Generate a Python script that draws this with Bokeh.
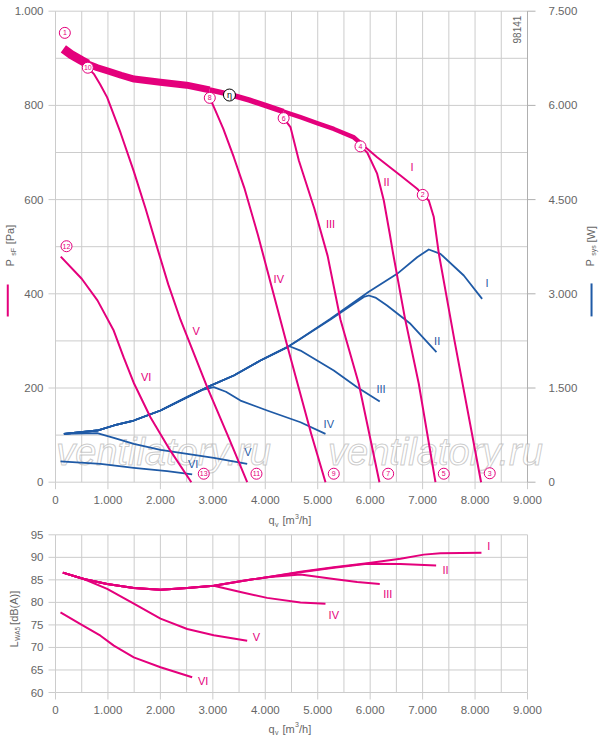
import numpy as np
from bokeh.core.properties import value
from bokeh.embed import file_html
from bokeh.layouts import column
from bokeh.models import Range1d
from bokeh.plotting import figure
from bokeh.resources import INLINE

MAGENTA = "#e4007c"
BLUE = "#1f5aa6"
GRID = "#cccccc"
TXT = "#666666"
FONT = "Liberation Sans"
ROMAN = ["I", "II", "III", "IV", "V", "VI"]

# ---- axes -----------------------------------------------------------------
q_ticks = [0, 1000, 2000, 3000, 4000, 5000, 6000, 7000, 8000, 9000]
q_grid = [0, 500, 1000, 1500, 2000, 2500, 3000, 3500, 4000, 4500, 5000, 5500,
          6000, 6500, 7000, 7500, 8000, 8500, 9000]
p_ticks = [0, 200, 400, 600, 800, 1000]
p_grid = [0, 100, 200, 300, 400, 500, 600, 700, 800, 900, 1000]
w_ticks = [0, 1500, 3000, 4500, 6000, 7500]
db_ticks = [60, 65, 70, 75, 80, 85, 90, 95]

# ---- static pressure psF [Pa] -------------------------------------------
# upper envelope where the speed curves I..V lie on top of each other
env_q = [150, 300, 500, 616, 800, 1000, 1250, 1500, 2000, 2500, 2940, 3300,
         3700, 4000, 4350, 4670, 5000, 5306, 5690, 5815]
env_p = [920, 908, 895, 888, 880, 873, 864, 856, 849, 843, 833, 824,
         811, 800, 787, 775, 762, 750, 732, 720]
band_ends = [616, 2940, 4350, 5815]      # V, IV, III, II leave the band here
band_widths = [9, 7, 5.5, 4.5]

pI_q = [5815, 6133, 6578, 6896, 7003, 7118, 7213, 7310, 7607, 8115]
pI_p = [720, 690, 651, 623, 610, 598, 563, 485, 301, 0]
pII_q = [5815, 5943, 6133, 6260, 6374, 6430, 6660, 6927, 7245]
pII_p = [713, 700, 655, 598, 527, 490, 350, 209, 0]
pIII_q = [4350, 4480, 4640, 4938, 5190, 5434, 5783, 6177]
pIII_p = [773, 754, 683, 580, 480, 345, 209, 0]
pIV_q = [2942, 3050, 3200, 3400, 3600, 3860, 4418, 4650, 4875, 5148]
pIV_p = [816, 789, 750, 690, 625, 525, 290, 195, 103, 0]
pV_q = [616, 730, 850, 985, 1240, 1493, 1720, 1920, 2150, 2383, 2892, 3300, 3655]
pV_p = [880, 867, 845, 817, 742, 660, 580, 505, 420, 345, 202, 95, 0]
pVI_q = [100, 500, 800, 1110, 1300, 1500, 1810, 2190, 2590]
pVI_p = [479, 432, 386, 322, 265, 209, 138, 67, 0]

p_lab_q = [6800, 6311, 5243, 4258, 2683, 1729]
p_lab_p = [669, 637, 549, 432, 322, 223]

mark_q = [178, 7003, 8280, 5815, 7404, 4350, 6343, 2942, 5306, 616, 3832, 210, 2827]
mark_p = [954, 610, 19, 713, 18, 773, 18, 816, 18, 880, 18, 501, 18]
mark_txt = [str(i) for i in range(1, 14)]
eta_q, eta_p = 3317, 822

# ---- power consumption Psys [W] ----------------------------------------
wI_q = [160, 795, 1112, 1493, 2002, 2511, 2892, 3400, 3908, 4418, 4671, 5244,
        5974, 6514, 6896, 7118, 7340, 7785, 8135]
wI_w = [771, 823, 903, 982, 1142, 1354, 1513, 1699, 1938, 2150, 2283, 2602,
        3032, 3318, 3583, 3705, 3637, 3291, 2920]
wII_q = [160, 795, 1112, 1493, 2002, 2511, 2892, 3400, 3908, 4418, 4671, 5244,
         5700, 5880, 5974, 6100, 6322, 6768, 7264]
wII_w = [771, 823, 903, 982, 1142, 1354, 1513, 1699, 1938, 2150, 2283, 2590,
         2850, 2950, 2973, 2940, 2814, 2522, 2070]
wIII_q = [160, 795, 1112, 1493, 2002, 2511, 2892, 3400, 3908, 4200, 4461, 4671,
          5306, 5752, 6183]
wIII_w = [771, 823, 903, 982, 1142, 1354, 1513, 1699, 1938, 2060, 2165, 2096,
          1779, 1513, 1285]
wIV_q = [160, 795, 1112, 1493, 2002, 2511, 2800, 3018, 3250, 3527, 4035, 4671, 5148]
wIV_w = [771, 823, 903, 982, 1142, 1354, 1470, 1513, 1440, 1300, 1142, 955, 770]
wV_q = [160, 795, 1112, 1493, 2002, 2511, 3018, 3655]
wV_w = [771, 780, 707, 611, 516, 452, 389, 293]
wVI_q = [95, 858, 1493, 2129, 2606]
wVI_w = [330, 293, 229, 175, 123]

w_lab_q = [8230, 7277, 6208, 5211, 3667, 2625]
w_lab_w = [3175, 2256, 1487, 930, 478, 293]

# ---- sound power LWA5 [dB(A)] -------------------------------------------
sI_q = [140, 540, 985, 1493, 2002, 2511, 3018, 3527, 4035, 4671, 5306, 5942,
        6578, 7022, 7340, 8122]
sI_db = [86.6, 85.2, 84.1, 83.2, 82.8, 83.2, 83.7, 84.7, 85.6, 86.8, 87.8, 88.7,
         89.7, 90.6, 90.9, 91.0]
sII_q = [140, 540, 985, 1493, 2002, 2511, 3018, 3527, 4035, 4671, 5306, 5942, 6578, 7258]
sII_db = [86.6, 85.2, 84.1, 83.2, 82.8, 83.2, 83.7, 84.7, 85.6, 86.7, 87.7, 88.6, 88.5, 88.2]
sIII_q = [140, 540, 985, 1493, 2002, 2511, 3018, 3527, 4035, 4671, 5306, 5752, 6183]
sIII_db = [86.6, 85.2, 84.1, 83.2, 82.8, 83.2, 83.7, 84.7, 85.6, 86.2, 85.2, 84.5, 84.1]
sIV_q = [140, 540, 985, 1493, 2002, 2511, 3018, 3527, 4035, 4671, 5148]
sIV_db = [86.6, 85.2, 84.1, 83.2, 82.8, 83.2, 83.7, 82.3, 81.0, 80.0, 79.7]
sV_q = [140, 540, 985, 1493, 2002, 2511, 3018, 3655]
sV_db = [86.6, 85.2, 83.0, 79.7, 76.4, 74.1, 72.7, 71.5]
sVI_q = [95, 477, 858, 1112, 1493, 2002, 2606]
sVI_db = [77.8, 75.2, 72.6, 70.4, 67.8, 65.6, 63.4]

s_lab_q = [8261, 7436, 6335, 5306, 3832, 2816]
s_lab_db = [92.6, 87.2, 81.9, 77.3, 72.4, 62.5]

watermark_q = [2059, 7245]
watermark_p = [65, 65]

# pixel sizes of one unit on each scale (the frame fills the whole canvas,
# the axes are drawn by hand so the titles are not clipped)
PX_Q = 9000 / 472
PX_P = 1000 / 471
PX_W = 7500 / 471
PX_DB = 35 / 157.7


def thousands(v):
    s = str(int(round(v)))
    return s[:-3] + "." + s[-3:] if len(s) > 3 else s


def txt(p, x, y, text, size="11px", color=TXT, angle=0.0, align="left", **kw):
    p.text(x=x, y=y, text=text, text_font=value(FONT), text_font_size=size,
           text_color=color, angle=angle, text_align=align, text_baseline="middle", **kw)


def make_fig(height, y0, y1, px_y, top_px, bottom_px):
    p = figure(width=600, height=height, output_backend="svg", toolbar_location=None,
               x_range=Range1d(-55 * PX_Q, 9000 + 73 * PX_Q),
               y_range=Range1d(y0 - bottom_px * px_y, y1 + top_px * px_y),
               x_axis_location=None, y_axis_location=None, min_border=0, title=None)
    p.grid.visible = False
    p.outline_line_color = None
    p.background_fill_color = "white"
    p.border_fill_color = "white"
    return p


def frame_axes(p, y_ticks, y_grid, y0, y1, px_y):
    n, m = len(q_grid), len(y_grid)
    p.segment(x0=q_grid, y0=[y0] * n, x1=q_grid, y1=[y1] * n, line_color=GRID, line_width=1)
    p.segment(x0=[0] * m, y0=y_grid, x1=[9000] * m, y1=y_grid, line_color=GRID, line_width=1)
    k = len(y_ticks)
    p.segment(x0=[-7 * PX_Q] * k, y0=y_ticks, x1=[0] * k, y1=y_ticks, line_color=GRID)
    k = len(q_ticks)
    p.segment(x0=q_ticks, y0=[y0 - 7 * px_y] * k, x1=q_ticks, y1=[y0] * k, line_color=GRID)
    txt(p, [0] * len(y_ticks), y_ticks, [thousands(v) for v in y_ticks],
        size="11.5px", align="right", x_offset=-12)
    txt(p, q_ticks, [y0] * k, [thousands(v) for v in q_ticks],
        size="11.5px", align="center", y_offset=17.5)


def qv_title(p, y, y_sub, y_sup):
    txt(p, [4062], [y], ["q"])
    txt(p, [4186], [y_sub], ["v"], size="7px")
    txt(p, [4329], [y], ["[m"])
    txt(p, [4567], [y_sup], ["3"], size="7px")
    txt(p, [4643], [y], ["/h]"])


# ======================= upper chart: psF and Psys ========================
p1 = make_fig(528, 0, 1000, PX_P, 10.7, 528 - 481.7)
p1.extra_y_ranges = {"w": Range1d(-(528 - 481.7) * PX_W, 7500 + 10.7 * PX_W)}
frame_axes(p1, p_ticks, p_grid, 0, 1000, PX_P)
# right axis
p1.segment(x0=[9000], y0=[0], x1=[9000], y1=[1000], line_color="#b0b0b0", line_width=1)
k = len(w_ticks)
p1.segment(x0=[9000] * k, y0=w_ticks, x1=[9000 + 8 * PX_Q] * k, y1=w_ticks,
           line_color="#b0b0b0", y_range_name="w")
txt(p1, [9000] * k, w_ticks, [thousands(v) for v in w_ticks], size="11.5px",
    x_offset=21, y_range_name="w")

p1.text(x=watermark_q, y=watermark_p, text=["ventilatory.ru"] * 2,
        text_font=value(FONT), text_font_style="italic", text_font_size="38px",
        text_color="white", text_alpha=0.6, text_outline_color="#aaaaaa",
        text_align="center", text_baseline="middle")

# power curves
for q, w in [(wI_q, wI_w), (wII_q, wII_w), (wIII_q, wIII_w), (wIV_q, wIV_w),
             (wV_q, wV_w), (wVI_q, wVI_w)]:
    p1.line(q, w, y_range_name="w", line_color=BLUE, line_width=1.8, line_join="round")
txt(p1, w_lab_q, w_lab_w, ROMAN, color=BLUE, align="center", y_range_name="w")

# pressure: the band of overlapping curves
eq = np.array(env_q)
ep = np.array(env_p)
start = env_q[0]
for end, lw in zip(band_ends, band_widths):
    m = (eq >= start) & (eq <= end)
    p1.line(eq[m], ep[m], line_color=MAGENTA, line_width=lw, line_join="round")
    start = end

for q, pr in [(pI_q, pI_p), (pII_q, pII_p), (pIII_q, pIII_p), (pIV_q, pIV_p),
              (pV_q, pV_p), (pVI_q, pVI_p)]:
    p1.line(q, pr, line_color=MAGENTA, line_width=2, line_join="round")
txt(p1, p_lab_q, p_lab_p, ROMAN, color=MAGENTA, align="center")

p1.scatter(mark_q, mark_p, size=11, marker="circle", fill_color="white",
           line_color=MAGENTA, line_width=1)
txt(p1, mark_q, mark_p, mark_txt, size="7px", color=MAGENTA, align="center")
p1.scatter([eta_q], [eta_p], size=12, marker="circle", fill_color="white",
           line_color="black", line_width=1)
txt(p1, [eta_q], [eta_p], ["η"], size="9px", color="black", align="center")

txt(p1, [8791], [961], ["98141"], size="10px", angle=np.pi / 2, align="center")

# axis titles with colour keys
txt(p1, [-877], [458], ["P"], angle=np.pi / 2)
txt(p1, [-810], [481], ["sF"], size="7px", angle=np.pi / 2)
txt(p1, [-877], [505], ["[Pa]"], angle=np.pi / 2)
p1.line([-910, -910], [352, 420], line_color=MAGENTA, line_width=2)
txt(p1, [10183], [458], ["P"], angle=np.pi / 2)
txt(p1, [10260], [481], ["sys"], size="7px", angle=np.pi / 2)
txt(p1, [10202], [509], ["[W]"], angle=np.pi / 2)
p1.line([10221, 10221], [352, 422], line_color=BLUE, line_width=2)
qv_title(p1, -81, -89, -73)

# ======================= lower chart: LWA5 ===============================
p2 = make_fig(212, 60, 95, PX_DB, 6.3, 212 - 164)
frame_axes(p2, db_ticks, db_ticks, 60, 95, PX_DB)

for q, db in [(sI_q, sI_db), (sII_q, sII_db), (sIII_q, sIII_db), (sIV_q, sIV_db),
              (sV_q, sV_db), (sVI_q, sVI_db)]:
    p2.line(q, db, line_color=MAGENTA, line_width=2, line_join="round")
txt(p2, s_lab_q, s_lab_db, ROMAN, color=MAGENTA, align="center")

txt(p2, [-795], [70.0], ["L"], angle=np.pi / 2)
txt(p2, [-728], [71.5], ["WA5"], size="6.5px", angle=np.pi / 2)
txt(p2, [-795], [75.0], ["[dB(A)]"], angle=np.pi / 2)
qv_title(p2, 52.0, 51.2, 52.8)

open("out.html", "w").write(file_html(column(p1, p2), INLINE, "fan curves"))
